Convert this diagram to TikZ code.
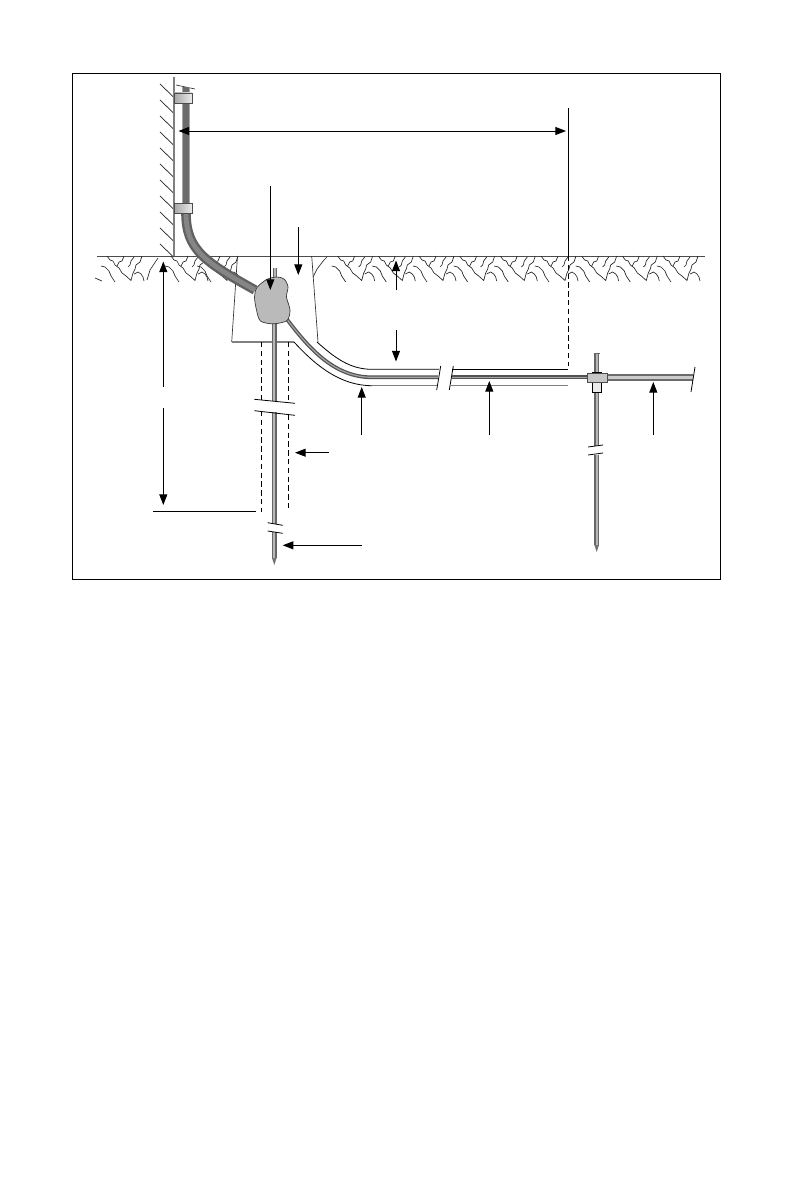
\documentclass[tikz,border=0pt]{standalone}
\usepackage{tikz}
\usetikzlibrary{arrows.meta}

\tikzset{
  thinline/.style={line width=.6pt,black},
  greyline/.style={line width=.9pt,black!50},
  hatchline/.style={line width=.55pt,black!85},
  crackline/.style={line width=.5pt,black!85},
  dashline/.style={line width=.6pt,black,dash pattern=on 4pt off 2.6pt},
  dimarrow/.style={line width=.75pt,black,-{Triangle[length=8pt,width=6pt]}},
  dimboth/.style={line width=.75pt,black,{Triangle[length=8pt,width=6pt]}-{Triangle[length=8pt,width=6pt]}},
  strap/.style={draw=black!70,line width=.4pt,left color=black!35,right color=black!8},
  joint/.style={draw=black,line width=.5pt,fill=black!8},
  crack/.pic={
    \draw[crackline] (0,0) -- (3,4) -- (6,5) -- (8,9) -- (12,12) -- (15,17) -- (19,20) -- (24,24.5) -- (26,17) -- (28,13) -- (29,9) -- (33,6) -- (35,0);
    \draw[crackline] (10,10) -- (12,6) -- (15,5) -- (17,0);
    \draw[crackline] (21,11) -- (23,9) -- (24,5) -- (27,1);
    \draw[crackline] (-6,10) -- (-2,11) -- (2,15) -- (4,20) -- (8,26);
    \draw[crackline] (27,18) -- (31,16) -- (34,18) -- (36,21) -- (37,25);
  }
}

\newcommand{\rodline}[1]{%
  \draw[line width=3.6pt,black!60] #1;
  \draw[line width=1.3pt,black!28] #1;
}

\begin{document}
\begin{tikzpicture}[x=.75pt,y=-.75pt]
  \useasboundingbox (0,0) rectangle (792,1188);
  \draw[line width=.65pt,black] (72,73) rectangle (720,579);

  % wall
  \foreach \y in {84,100,116,132,148,164,180,196,212,228,244}
    \draw[hatchline] (160,\y) -- (173.5,\y+13);
  \draw[greyline] (174,77) -- (174,256);

  % ground
  \draw[line width=.7pt,black!70] (97,256) -- (705,256);
  \foreach \x in {107,171,203,337.7,378.3,419,459.7,500.3,541,581.7,622.3,663}
    \pic at (\x,256) {crack};
  \draw[crackline] (313,277) -- (317,269) -- (324,260) -- (327,257);
  \draw[crackline] (147,280) -- (150,270) -- (158,258);
  \draw[crackline] (95,278) -- (102,281);

  % pit
  \draw[line width=.5pt,black!80] (237.5,256) -- (231.7,342);
  \draw[line width=.5pt,black!80] (311.7,256) -- (318,342);
  \draw[greyline] (231.7,342) -- (294,342);

  % sleeve
  \draw[thinline] (317,342) .. controls (335,358) and (350,369.3) .. (372,369.3) -- (439,369.3);
  \draw[thinline] (294,342) .. controls (315,365) and (340,385.7) .. (372,385.7);
  \draw[greyline] (372,385.7) -- (438,385.7);
  \draw[thinline] (452,369.3) -- (568,369.3);
  \draw[greyline] (451,385.7) -- (568,385.7);
  \draw[thinline] (440.7,366) -- (436.7,390);
  \draw[thinline] (453.3,366) -- (449.3,390);

  % dashed limits
  \draw[dashline] (261.3,342) -- (261.3,400);
  \draw[dashline] (261.3,411) -- (261.3,511.7);
  \draw[dashline] (288.7,342) -- (288.7,402.7);
  \draw[dashline] (288.7,415) -- (288.7,511.7);
  \draw[dashline] (568,256) -- (568,366);

  % buried wire
  \draw[line width=2.8pt,black!68] (286,318) .. controls (310,350) and (335,377.3) .. (372,377.3) -- (438,377.3);
  \draw[line width=.9pt,black!35] (286,318) .. controls (310,350) and (335,377.3) .. (372,377.3) -- (438,377.3);
  \draw[line width=2.8pt,black!68] (451.5,377.3) -- (588,377.3);
  \draw[line width=.9pt,black!35] (451.5,377.3) -- (588,377.3);
  \draw[line width=5pt,black!58] (607,377.5) -- (693,377.5);
  \draw[line width=2.2pt,black!20] (607,377.5) -- (693,377.5);
  \draw[thinline] (695,367) -- (691,392);

  % conduit on the wall
  \draw[line width=.5pt,black!80] (176,85) -- (195,89);
  \draw[line width=6.4pt,black!35] (186,87) -- (186,214);
  \draw[line width=4.2pt,black!58] (186,87) -- (186,214);
  \draw[line width=7.2pt,black!62] (186,213) .. controls (186,250) and (205,262) .. (255,290);
  \draw[line width=3.6pt,black!48] (186,213) .. controls (186,250) and (205,262) .. (255,290);
  \draw[strap] (174,93) rectangle (192,103);
  \draw[strap] (174,203) rectangle (192,213);

  % ground rod, left
  \rodline{(275,268) -- (275,279)}
  \rodline{(274.3,322) -- (274.3,401)}
  \rodline{(274.3,412) -- (274.3,523.7)}
  \rodline{(274.3,532) -- (274.3,558)}
  \fill[black!55] (272,558) -- (276.6,558) -- (274.3,565) -- cycle;
  \draw[thinline] (254.3,399.3) -- (295,403.3);
  \draw[thinline] (254.3,410.7) -- (295,415.3);
  \draw[thinline] (267.7,522.7) -- (282.7,525.3);
  \draw[thinline] (267.7,531) -- (282.7,533.3);

  % weld blob
  \draw[line width=.5pt,black!80,fill=black!27] plot[smooth cycle,tension=.5] coordinates {
    (257,287.5) (266.7,279.5) (276.7,277) (284,279) (288,286.7) (286.5,297)
    (290,310) (287,320.5) (273.3,323.8) (260.5,321) (256.5,310) (254.5,297)};

  % ground rod, right
  \rodline{(596.7,353) -- (596.7,446)}
  \rodline{(596.7,454.5) -- (596.7,545)}
  \fill[black!55] (594.4,545) -- (599,545) -- (596.7,552) -- cycle;
  \draw[line width=.6pt,black!60] (593.5,353) -- (600,353);
  \draw[thinline] (588,447) -- (603,445);
  \draw[thinline] (588,455) -- (603,453);
  \draw[joint] (592.3,372) rectangle (601,392);
  \draw[line width=.5pt,black!70,fill=black!22] (587,373.5) rectangle (607,382);

  % measures
  \coordinate (spanleft) at (178.5,131);
  \coordinate (spanright) at (566,131);
  \coordinate (plumbtop) at (568,108);
  \coordinate (plumbfoot) at (568,256);
  \coordinate (lugstart) at (270.3,186);
  \coordinate (lugend) at (270.3,290);
  \coordinate (pitstart) at (298.3,227);
  \coordinate (pitend) at (298.3,275);
  \coordinate (soilstart) at (396,290);
  \coordinate (soilend) at (396,260.5);
  \coordinate (wirestart) at (396,330);
  \coordinate (wireend) at (396,361.5);
  \coordinate (tubestart) at (361.7,435);
  \coordinate (tubeend) at (361.7,387);
  \coordinate (runstart) at (489.3,435);
  \coordinate (runend) at (489.3,381);
  \coordinate (branchstart) at (653.3,435);
  \coordinate (branchend) at (653.3,382);
  \coordinate (deptop) at (163.3,386.7);
  \coordinate (deptopend) at (163.3,261.5);
  \coordinate (depbot) at (163.3,408);
  \coordinate (depbotend) at (163.3,505);
  \coordinate (depleft) at (153.3,511.7);
  \coordinate (depright) at (255.7,511.7);
  \coordinate (bandstart) at (329,452.7);
  \coordinate (bandend) at (295,452.7);
  \coordinate (tipstart) at (361.7,545.3);
  \coordinate (tipend) at (282.7,545.3);

  \draw[dimboth] (spanleft) -- (spanright);
  \draw[line width=.75pt,black] (plumbtop) -- (plumbfoot);
  \draw[dimarrow] (lugstart) -- (lugend);
  \draw[dimarrow] (pitstart) -- (pitend);
  \draw[dimarrow] (soilstart) -- (soilend);
  \draw[dimarrow] (wirestart) -- (wireend);
  \draw[dimarrow] (tubestart) -- (tubeend);
  \draw[dimarrow] (runstart) -- (runend);
  \draw[dimarrow] (branchstart) -- (branchend);
  \draw[dimarrow] (deptop) -- (deptopend);
  \draw[dimarrow] (depbot) -- (depbotend);
  \draw[line width=.75pt,black] (depleft) -- (depright);
  \draw[dimarrow] (bandstart) -- (bandend);
  \draw[dimarrow] (tipstart) -- (tipend);
\end{tikzpicture}
\end{document}
